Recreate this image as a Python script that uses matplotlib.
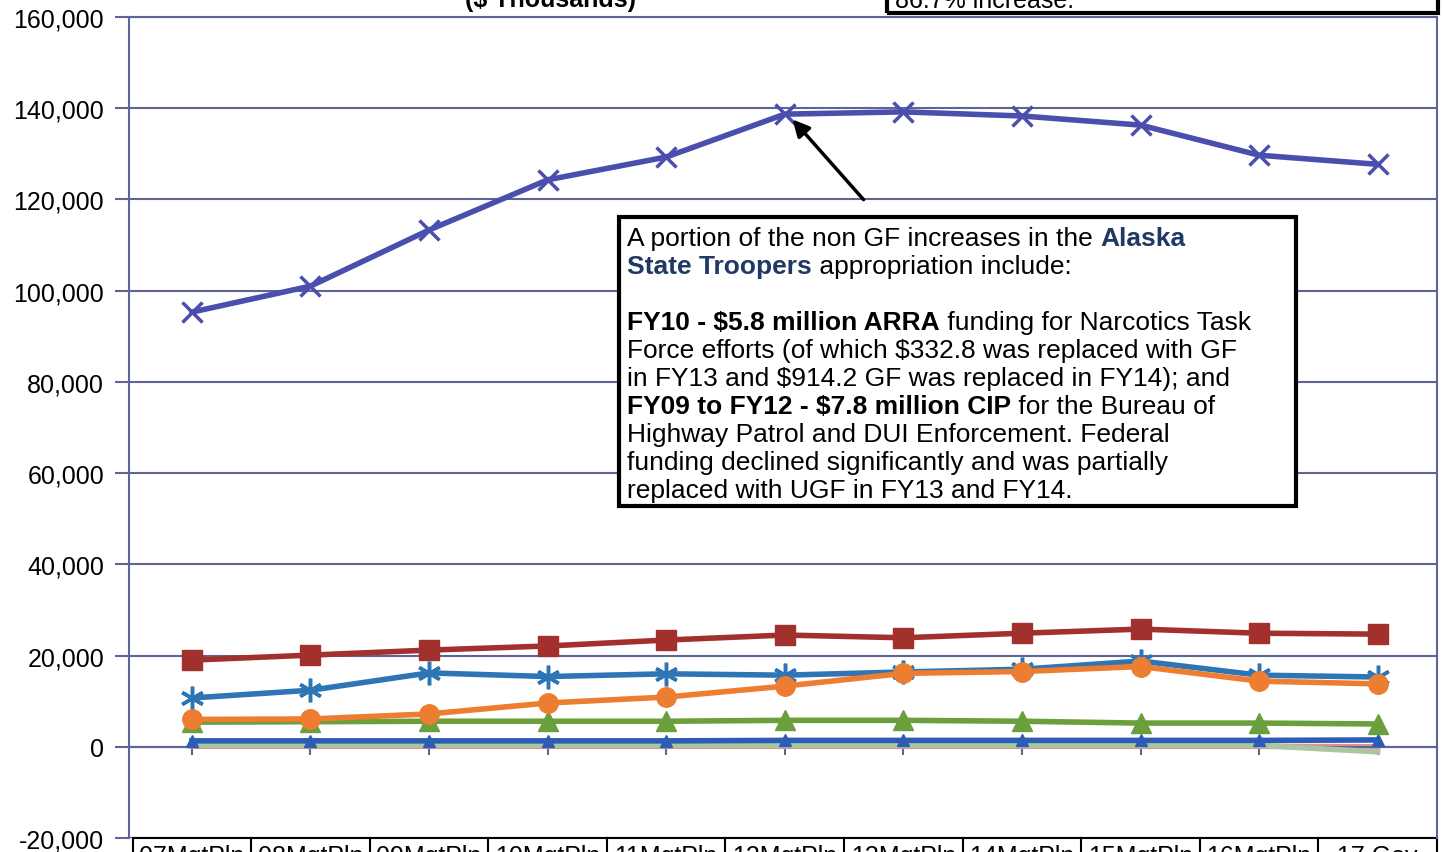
#!/usr/bin/env python3

import matplotlib
matplotlib.use("Agg")
import matplotlib.pyplot as plt
import numpy as np

#================ Data ($ thousands) =====================
categories = ["07MgtPln", "08MgtPln", "09MgtPln", "10MgtPln", "11MgtPln", "12MgtPln",
              "13MgtPln", "14MgtPln", "15MgtPln", "16MgtPln", "17 Gov"]

troopers = [95300, 101000, 113300, 124300, 129300, 138700, 139200, 138300, 136300, 129700, 127700]
red_sq = [19000, 20100, 21200, 22100, 23400, 24500, 23900, 24900, 25800, 24900, 24700]
blue_star = [10700, 12400, 16200, 15400, 16000, 15700, 16400, 17000, 18800, 15700, 15300]
orange_circ = [6000, 6100, 7200, 9600, 10900, 13300, 16100, 16500, 17600, 14400, 13800]
green_tri = [5400, 5500, 5600, 5600, 5600, 5800, 5800, 5600, 5200, 5200, 5000]
navy_tri = [1300, 1300, 1300, 1300, 1300, 1400, 1400, 1400, 1400, 1400, 1500]
pink_line = [100, 100, 100, 100, 100, 100, 100, 100, 100, 100, 0]
sage_line = [300, 300, 300, 300, 300, 300, 300, 300, 300, 300, -1100]

#================ Figure =====================
plt.rcParams['font.family'] = ['Liberation Sans', 'DejaVu Sans']
fig = plt.figure(figsize=(14.42, 8.53), dpi=100)
ax = fig.add_axes([0.0895, 0.0164, 0.9070, 0.9625])

x = np.arange(len(categories))
grid_col = '#5d6498'

ax.plot(x, sage_line, color='#a9c6a0', lw=4, zorder=3)
ax.plot(x, pink_line, color='#e3908f', lw=4, zorder=2)
ax.plot(x, navy_tri, color='#2c5cb6', lw=4, marker='^', ms=8, zorder=4)
ax.plot(x, green_tri, color='#6a9f3b', lw=4, marker='^', ms=14, zorder=4)
ax.plot(x, blue_star, color='#2e75b6', lw=4, marker=(6, 2, 0), ms=17, mew=2.5, zorder=5)
ax.plot(x, orange_circ, color='#ed7d31', lw=4, marker='o', ms=14, zorder=5.5)
ax.plot(x, red_sq, color='#a2312d', lw=4, marker='s', ms=14, zorder=5)
ax.plot(x, troopers, color='#4a4fae', lw=4, marker='x', ms=14, mew=2.5, zorder=6)

ax.set_xlim(-0.53, 10.5)
ax.set_ylim(-20000, 160000)
ax.set_yticks(np.arange(-20000, 160001, 20000))
ax.set_yticklabels([f"{v:,}" for v in range(-20000, 160001, 20000)], fontsize=18)
ax.yaxis.grid(True, color=grid_col, lw=1.5)
ax.set_axisbelow(True)
ax.tick_params(axis='y', length=10, width=1.5, color=grid_col, pad=8)

# category axis crosses at zero
ax.spines['bottom'].set_position(('data', 0))
ax.spines['bottom'].set_color(grid_col)
ax.spines['bottom'].set_linewidth(1.5)
ax.set_xticks(x)
ax.set_xticklabels([])
ax.tick_params(axis='x', length=6, width=1.5, color=grid_col, direction='out')
for side in ['left', 'right', 'top']:
    ax.spines[side].set_color(grid_col)
    ax.spines[side].set_linewidth(1.5)

# data-table style category labels (cut off at the bottom)
for i, lab in enumerate(categories):
    ax.plot([i - 0.5, i - 0.5], [-20000, -26000], color='black', lw=1.5, clip_on=False)
    ax.text(i, -21400, lab, ha='center', va='top', fontsize=18, clip_on=False)
ax.plot([10.5, 10.5], [-20000, -26000], color='black', lw=1.5, clip_on=False)
ax.plot([-0.5, 10.5], [-20000, -20000], color='black', lw=1.5, clip_on=False)

#================ Titles / boxes cut at the top =====================
fig.text(0.382, 0.9918, "($ Thousands)", ha='center', va='baseline',
         fontsize=18, fontweight='bold')
fig.text(0.621, 0.9905, "86.7% increase.", ha='left', va='baseline', fontsize=18)
fig.patches.append(plt.Rectangle((0.615, 0.984), 0.382, 0.1, transform=fig.transFigure,
                                 fill=False, ec='black', lw=3, clip_on=False))

#================ Annotation box =====================
ax.annotate("", xy=(5.05, 138000), xytext=(5.68, 119500),
            arrowprops=dict(arrowstyle='-|>', color='black', lw=2.5, mutation_scale=25),
            zorder=7)

box_l, box_r = 619 / 1442, 1296 / 1442
box_t, box_b = 1 - 218 / 853, 1 - 507 / 853
fig.patches.append(plt.Rectangle((box_l, box_b), box_r - box_l, box_t - box_b,
                                 transform=fig.transFigure, fc='white', ec='black',
                                 lw=3, zorder=8))

navy = '#1f3864'
lines = [
    [("A portion of the non GF increases in the ", 'normal', 'black'), ("Alaska", 'bold', navy)],
    [("State Troopers", 'bold', navy), (" appropriation include:", 'normal', 'black')],
    [],
    [("FY10 - $5.8 million ARRA", 'bold', 'black'), (" funding for Narcotics Task", 'normal', 'black')],
    [("Force efforts (of which $332.8 was replaced with GF", 'normal', 'black')],
    [("in FY13 and $914.2 GF was replaced in FY14); and", 'normal', 'black')],
    [("FY09 to FY12 - $7.8 million CIP", 'bold', 'black'), (" for the Bureau of", 'normal', 'black')],
    [("Highway Patrol and DUI Enforcement. Federal", 'normal', 'black')],
    [("funding declined significantly and was partially", 'normal', 'black')],
    [("replaced with UGF in FY13 and FY14.", 'normal', 'black')],
]

renderer = fig.canvas.get_renderer()
inv = fig.transFigure.inverted()
x0 = 627 / 1442
pitch = 27.9
for k, parts in enumerate(lines):
    y = 1 - (246.5 + k * pitch) / 853
    xx = x0
    for s, w, c in parts:
        t = fig.text(xx, y, s, fontsize=19, fontweight=w, color=c, va='baseline',
                     ha='left', zorder=9)
        bb = t.get_window_extent(renderer)
        xx = inv.transform((bb.x1, bb.y0))[0]

fig.savefig("out.png", dpi=100)
